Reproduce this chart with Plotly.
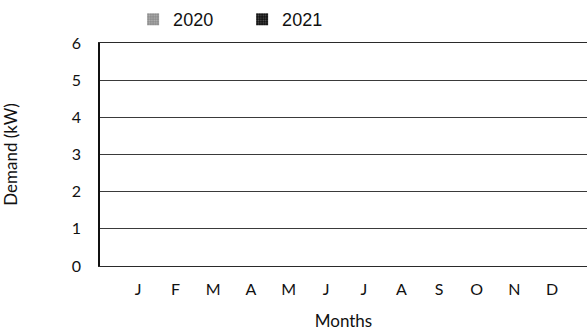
import plotly.graph_objects as go

# Monthly demand chart (no readings entered yet)
months = ["J", "F", "M", "A", "M", "J", "J", "A", "S", "O", "N", "D"]
month_keys = ["Jan", "Feb", "Mar", "Apr", "May", "Jun",
              "Jul", "Aug", "Sep", "Oct", "Nov", "Dec"]
demand_2020 = [None, None, None, None, None, None,
               None, None, None, None, None, None]
demand_2021 = [None, None, None, None, None, None,
               None, None, None, None, None, None]
y_ticks = [0, 1, 2, 3, 4, 5, 6]

fig = go.Figure()
fig.add_trace(go.Bar(
    name="2020", x=month_keys, y=demand_2020,
    marker=dict(color="#9a9a9a", line=dict(width=0),
                pattern=dict(shape=".", fgcolor="#d8d8d8", bgcolor="#8c8c8c",
                             size=3, solidity=0.4)),
))
fig.add_trace(go.Bar(
    name="2021", x=month_keys, y=demand_2021,
    marker=dict(color="#1a1a1a", line=dict(width=0),
                pattern=dict(shape=".", fgcolor="#9a9a9a", bgcolor="#111111",
                             size=3, solidity=0.3)),
))

axis_font = dict(family="Lato, Open Sans, sans-serif", size=16, color="#111111")
title_font = dict(family="Lato, Open Sans, sans-serif", size=17, color="#111111")

fig.update_layout(
    width=587, height=331,
    margin=dict(l=100, r=0, t=43, b=65),
    paper_bgcolor="white", plot_bgcolor="white",
    showlegend=True,
    legend=dict(orientation="h", x=0.068, xanchor="left", y=1.105, yanchor="middle",
                font=dict(family="Liberation Sans, Arial, sans-serif", size=18, color="#111111"),
                entrywidth=64, bgcolor="rgba(0,0,0,0)"),
    bargap=0.3,
    xaxis=dict(
        tickmode="array", tickvals=month_keys, ticktext=months,
        categoryorder="array", categoryarray=month_keys,
        range=[-1.01, 11.93],
        showgrid=False, zeroline=False,
        showline=True, mirror=True, linecolor="#2a2a2a", linewidth=1,
        ticks="", tickfont=axis_font, ticklabelstandoff=9,
        title=dict(text="Months", font=title_font, standoff=19),
    ),
    yaxis=dict(
        range=[0, 6], tickvals=y_ticks,
        showgrid=True, gridcolor="#3a3a3a", gridwidth=1,
        zeroline=True, zerolinecolor="#3a3a3a", zerolinewidth=1,
        showline=True, linecolor="#111111", linewidth=1.5,
        ticks="", tickfont=axis_font, ticklabelstandoff=14,
        title=dict(text="Demand (kW)", font=title_font, standoff=50),
    ),
)

fig.write_html("out.html")
